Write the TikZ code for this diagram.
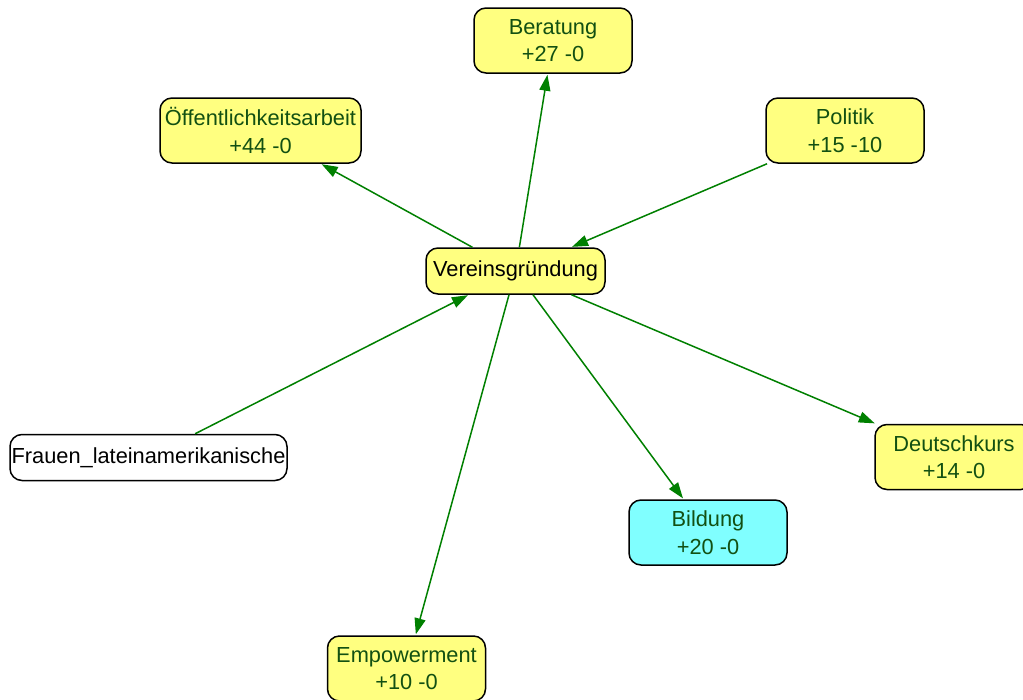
\documentclass[tikz,border=0pt]{standalone}
\usepackage{fontspec}
\setmainfont{Liberation Sans}
\usetikzlibrary{arrows.meta}
\definecolor{boxyellow}{RGB}{255,255,128}
\definecolor{boxcyan}{RGB}{128,255,255}
\definecolor{labelgreen}{RGB}{18,80,18}
\definecolor{edgegreen}{RGB}{0,128,0}
\tikzset{
  topic/.style={draw=black, line width=1.5pt, rounded corners=12pt, fill=boxyellow,
    text=labelgreen, align=center, inner sep=0pt,
    font=\fontsize{21.8}{27.5}\selectfont},
  twoline/.style={topic, minimum width=158pt, minimum height=65pt},
  oneline/.style={topic, minimum height=46pt},
  link/.style={draw=edgegreen, line width=1.5pt,
    -{Triangle[length=16pt,width=11pt]}, shorten >=1pt}
}
\begin{document}
\begin{tikzpicture}[x=1pt,y=-1pt]
  \useasboundingbox (0,0) rectangle (1023,699);
  \fill[white] (0,0) rectangle (1023,699);

  % central node
  \node[oneline, minimum width=179pt, text=black] (verein) at (515.5,271) {Vereinsgründung};

  % surrounding topics
  \node[twoline] (beratung) at (553,40.5) {Beratung\\+27 -0};
  \node[twoline, minimum width=201pt] (oeff) at (260.5,130.5) {Öffentlichkeitsarbeit\\+44 -0};
  \node[twoline] (politik) at (845,130.5) {Politik\\+15 -10};
  \node[oneline, minimum width=277pt, fill=white, text=black] (frauen) at (148.5,457.5) {Frauen\_lateinamerikanische};
  \node[twoline] (deutsch) at (954,457) {Deutschkurs\\+14 -0};
  \node[twoline, fill=boxcyan] (bildung) at (708,532.5) {Bildung\\+20 -0};
  \node[twoline] (empower) at (406.5,668.5) {Empowerment\\+10 -0};

  % connectors
  \draw[link] (verein) -- (oeff);
  \draw[link] (verein) -- (beratung);
  \draw[link] (politik) -- (verein);
  \draw[link] (frauen) -- (verein);
  \draw[link] (verein) -- (deutsch);
  \draw[link] (verein) -- (bildung);
  \draw[link] (verein) -- (empower);
\end{tikzpicture}
\end{document}
